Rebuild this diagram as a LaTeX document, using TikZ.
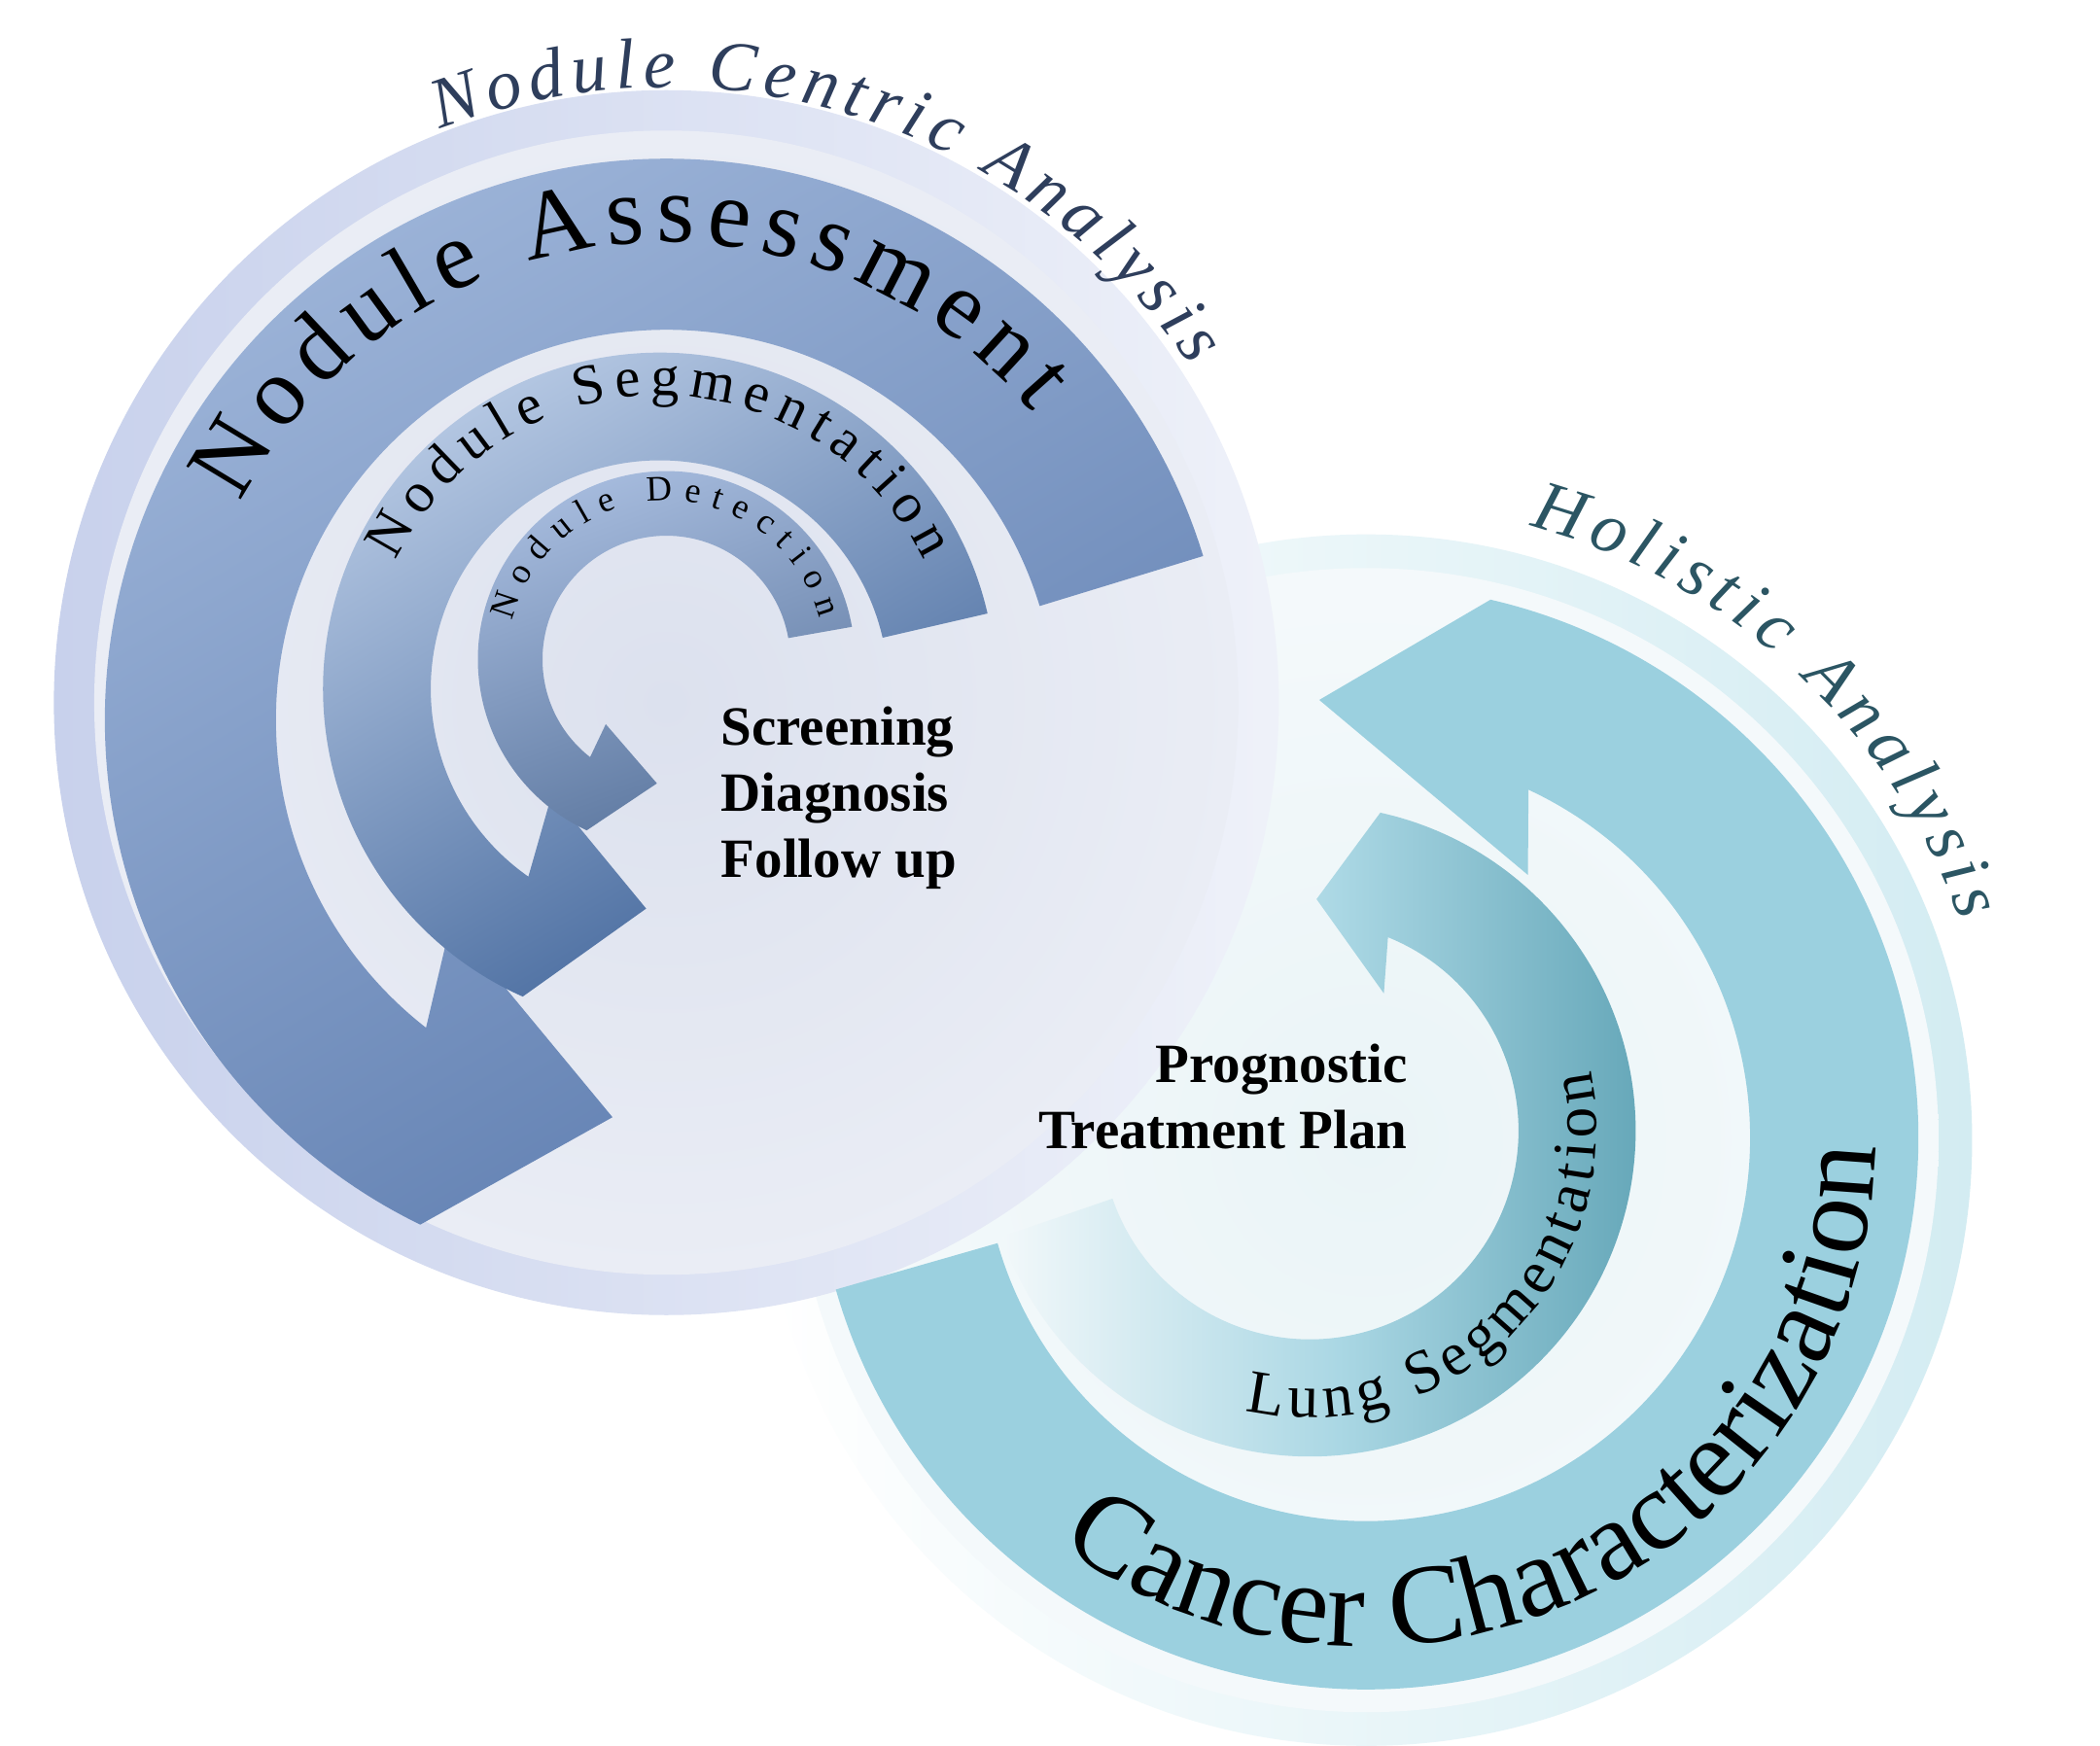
\documentclass[tikz,border=0pt]{standalone}
\usepackage{fontspec}
\setmainfont{Liberation Serif}
\usetikzlibrary{calc,decorations.text}
\definecolor{naA}{HTML}{9FB6DA}\definecolor{naB}{HTML}{5F7EB0}
\definecolor{sgA}{HTML}{BACCE6}\definecolor{sgB}{HTML}{41659A}
\definecolor{dtA}{HTML}{A8BDDF}\definecolor{dtB}{HTML}{5C779F}
\definecolor{cc}{HTML}{9BD0DF}
\definecolor{lgA}{HTML}{F2F8FA}\definecolor{lgB}{HTML}{5EA2B4}
\definecolor{ringL}{HTML}{C8D1EC}\definecolor{ringR}{HTML}{D3ECF2}
\definecolor{discL}{HTML}{DCE1EE}\definecolor{discR}{HTML}{EAF4F7}
\definecolor{ttlL}{HTML}{2E3E5C}\definecolor{ttlR}{HTML}{2B5563}
\tikzset{
  fitted/.style={decorate,decoration={text along path,text align=fit to path,text={#1}}},
  center text/.style={font=\bfseries\fontsize{11.7}{14}\selectfont,align=left,inner sep=0pt}
}
\begin{document}
\begin{tikzpicture}[x=0.01cm,y=0.01cm]
\useasboundingbox[fill=white] (0,0) rectangle (1560,1297);
\coordinate (C1) at (495,762);
\coordinate (C2) at (490,785);
\coordinate (C3) at (495,807);
\coordinate (C4) at (1015,452);
\coordinate (C5) at (973,457);
\coordinate (DL) at (495,775);
\coordinate (DR) at (1015,450);
% discs
\shade[left color=white,right color=ringR] (DR) circle[radius=450];
\shade[inner color=discR,outer color=white!50!discR] (DR) circle[radius=425];
\shade[left color=ringL,right color=white!70!ringL] (DL) circle[radius=455];
\shade[inner color=discL,outer color=white!40!discL] (DL) circle[radius=425];
% left arrows
\shade[top color=naA,bottom color=naB,shading angle=30]
  ($(C1)+(17:417)$) arc[start angle=17,end angle=244,radius=417]
  -- (455,467) -- (335,612) -- ($(C1)+(232:290)$)
  arc[start angle=232,end angle=17,radius=290] -- cycle;
\shade[top color=sgA,bottom color=sgB,shading angle=30]
  ($(C2)+(13:250)$) arc[start angle=13,end angle=246,radius=250]
  -- (480,622) -- (410,707) -- ($(C2)+(235:170)$)
  arc[start angle=235,end angle=13,radius=170] -- cycle;
\shade[top color=dtA,bottom color=dtB,shading angle=20]
  ($(C3)+(10:140)$) arc[start angle=10,end angle=245,radius=140]
  -- (488,715) -- (450,759) -- ($(C3)+(232:92)$)
  arc[start angle=232,end angle=10,radius=92] -- cycle;
% right arrows
\fill[cc]
  ($(C4)+(-164:410)$) arc[start angle=-164,end angle=77,radius=410]
  -- (980,777) -- (1135,647) -- ($(C4)+(65:285)$)
  arc[start angle=65,end angle=-164,radius=285] -- cycle;
\shade[left color=lgA,right color=lgB,middle color=cc!85!white]
  ($(C5)+(-161:242)$) arc[start angle=-161,end angle=77.5,radius=242]
  -- (978,629) -- (1028,559) -- ($(C5)+(68:155)$)
  arc[start angle=68,end angle=-161,radius=155] -- cycle;
% curved labels
\path[fitted={|\color{ttlL}\itshape\fontsize{15}{18}\selectfont|Nodule Centric Analysis}]
  ($(C1)+(111:470)$) arc[start angle=111,end angle=34,radius=470];
\path[fitted={|\fontsize{20.5}{24}\selectfont|Nodule Assessment}]
  ($(C1)+(153:355)$) arc[start angle=153,end angle=40,radius=355];
\path[fitted={|\fontsize{12}{14}\selectfont|Nodule Segmentation}]
  ($(C2)+(154:218)$) arc[start angle=154,end angle=26,radius=218];
\path[fitted={|\fontsize{7.5}{9}\selectfont|Nodule Detection}]
  ($(C3)+(166:118)$) arc[start angle=166,end angle=15,radius=118];
\path[fitted={|\color{ttlR}\itshape\fontsize{15}{18}\selectfont|Holistic Analysis}]
  ($(C4)+(75:470)$) arc[start angle=75,end angle=20,radius=470];
\path[fitted={|\fontsize{24}{28}\selectfont|Cancer Characterization}]
  ($(C4)+(233:378)$) arc[start angle=233,end angle=359,radius=378];
\path[fitted={|\fontsize{13}{16}\selectfont|Lung Segmentation}]
  ($(C5)+(257:213)$) arc[start angle=257,end angle=372,radius=213];
% centre texts
\node[center text,anchor=north west] (t1) at (535,773) {Screening\\Diagnosis\\Follow up};
\node[center text,anchor=north east,align=right] (t2) at (1046,522) {Prognostic\\Treatment Plan};
\end{tikzpicture}
\end{document}
